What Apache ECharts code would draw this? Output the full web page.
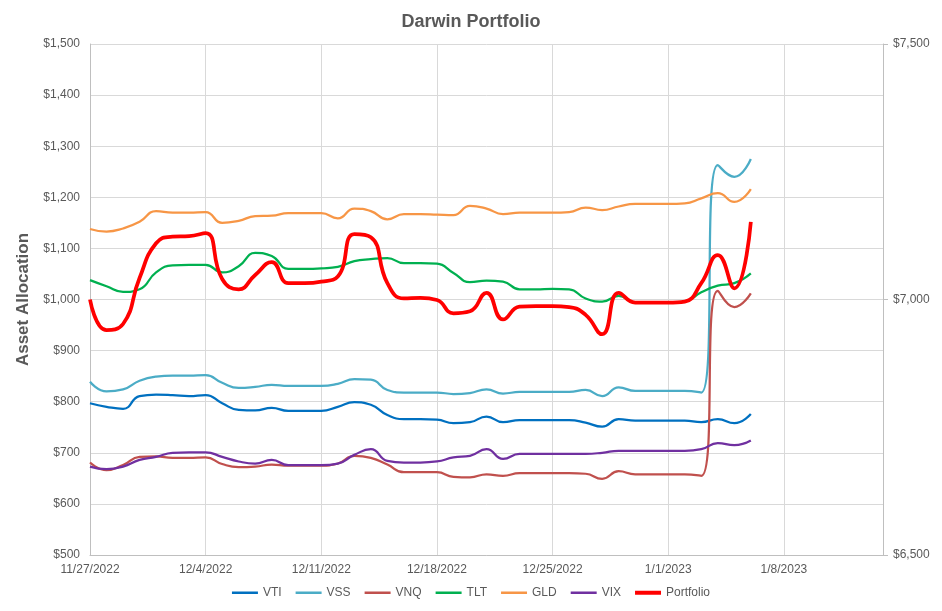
<!DOCTYPE html>
<html>
<head>
<meta charset="utf-8">
<script src="https://cdn.jsdelivr.net/npm/echarts@6/dist/echarts.min.js"></script>
<style>html,body{margin:0;padding:0;background:#fff}#c{width:942px;height:611px}</style>
</head>
<body>
<div id="c"></div>
<script>
const dates = ["11/27/2022","11/28/2022","11/29/2022","11/30/2022","12/1/2022","12/2/2022","12/3/2022",
"12/4/2022","12/5/2022","12/6/2022","12/7/2022","12/8/2022","12/9/2022","12/10/2022",
"12/11/2022","12/12/2022","12/13/2022","12/14/2022","12/15/2022","12/16/2022","12/17/2022",
"12/18/2022","12/19/2022","12/20/2022","12/21/2022","12/22/2022","12/23/2022","12/24/2022",
"12/25/2022","12/26/2022","12/27/2022","12/28/2022","12/29/2022","12/30/2022","12/31/2022",
"1/1/2023","1/2/2023","1/3/2023","1/4/2023","1/5/2023","1/6/2023","1/7/2023",
"1/8/2023","1/9/2023","1/10/2023","1/11/2023","1/12/2023","1/13/2023","1/14/2023"];

const VTI = [797,790,786,811,814,813,811,813,797,784,783,788,782,782,782,790,799,794,774,766,766,765,758,760,771,760,764,764,764,764,759,751,766,763,763,763,763,760,766,758,776];
const VSS = [839,820,824,841,849,851,851,852,837,827,829,833,831,831,831,835,844,843,823,818,818,818,815,817,824,816,819,819,819,819,823,811,828,821,821,821,821,818,1263,1240,1275];
const VNQ = [681,666,676,692,693,690,690,691,678,672,673,677,675,675,675,679,694,690,677,662,662,662,653,652,658,655,660,660,660,660,659,649,664,658,658,658,658,655,1017,985,1012];
const TLT = [1038,1026,1015,1020,1053,1067,1068,1068,1053,1065,1091,1085,1060,1060,1061,1064,1075,1079,1081,1071,1071,1070,1052,1034,1037,1035,1020,1020,1021,1020,1002,996,1007,994,994,994,996,1014,1027,1032,1051];
const GLD = [1138,1133,1139,1152,1173,1170,1170,1171,1150,1154,1163,1164,1169,1169,1169,1159,1178,1173,1157,1167,1167,1166,1165,1183,1178,1167,1170,1170,1170,1171,1180,1175,1182,1187,1187,1187,1188,1198,1208,1191,1216];
const VIX = [673,668,673,686,692,700,701,701,692,683,679,686,676,676,676,679,696,707,684,681,681,683,691,694,707,688,698,698,698,698,698,700,704,704,704,704,704,707,719,715,724];
const Portfolio = [7000,6940,6952,7042,7110,7123,7124,7130,7040,7020,7048,7073,7032,7032,7035,7045,7128,7122,7032,7002,7003,6999,6973,6977,7013,6961,6986,6987,6987,6985,6970,6932,7013,6994,6994,6994,6996,7032,7087,7022,7152];

const seriesNames = ["VTI","VSS","VNQ","TLT","GLD","VIX","Portfolio"];
const seriesData = [VTI,VSS,VNQ,TLT,GLD,VIX,Portfolio];
const colors = ["#0070C0","#4BACC6","#C0504D","#00B050","#F79646","#7030A0","#FF0000"];

const FONT = "'Liberation Sans', Arial, sans-serif";
const fmt = v => '$' + v.toLocaleString('en-US');
const thinIcon = 'path://M0,0 L26,0 L26,0.01 L0,0.01 Z M0,5 L26,5 L26,7.5 L0,7.5 Z M0,12.5 L26,12.5 L26,12.51 L0,12.51 Z';
const thickIcon = 'path://M0,0 L26,0 L26,0.01 L0,0.01 Z M0,4.25 L26,4.25 L26,8.25 L0,8.25 Z M0,12.5 L26,12.5 L26,12.51 L0,12.51 Z';

const chart = echarts.init(document.getElementById('c'), null, {renderer:'canvas'});
chart.setOption({
  animation: false,
  backgroundColor: '#ffffff',
  textStyle: {fontFamily: FONT},
  title: {
    text: 'Darwin Portfolio', left: 'center', top: 8,
    textStyle: {fontFamily: FONT, fontSize: 18, fontWeight: 'bold', color: '#595959'}
  },
  legend: {
    bottom: 7, left: 'center', itemWidth: 26, itemHeight: 12.5, itemGap: 14,
    textStyle: {fontFamily: FONT, fontSize: 12, color: '#595959'},
    data: seriesNames.map(n => ({name: n, icon: n === 'Portfolio' ? thickIcon : thinIcon}))
  },
  grid: {left: 90, right: 59, top: 44, bottom: 56, containLabel: false},
  xAxis: {
    type: 'category', data: dates, boundaryGap: false,
    axisLine: {lineStyle: {color: '#BFBFBF', width: 1}},
    axisTick: {show: false},
    axisLabel: {interval: 6, color: '#595959', fontSize: 12, margin: 9, fontFamily: FONT},
    splitLine: {show: true, interval: 6, lineStyle: {color: '#D9D9D9', width: 1}}
  },
  yAxis: [{
    type: 'value', min: 500, max: 1500, interval: 100,
    name: 'Asset Allocation', nameLocation: 'middle', nameGap: 58,
    nameTextStyle: {fontFamily: FONT, fontSize: 17, fontWeight: 'bold', color: '#595959'},
    axisLine: {show: true, lineStyle: {color: '#BFBFBF'}},
    axisTick: {show: false},
    axisLabel: {formatter: fmt, color: '#595959', fontSize: 12, margin: 10, fontFamily: FONT},
    splitLine: {show: true, lineStyle: {color: '#D9D9D9', width: 1}}
  }, {
    type: 'value', min: 6500, max: 7500, interval: 500, position: 'right',
    axisLine: {show: true, lineStyle: {color: '#BFBFBF'}},
    axisTick: {show: true, length: 5, lineStyle: {color: '#BFBFBF'}},
    axisLabel: {formatter: fmt, color: '#595959', fontSize: 12, margin: 10, fontFamily: FONT},
    splitLine: {show: false}
  }],
  series: seriesNames.map((n, i) => ({
    name: n, type: 'line', data: seriesData[i],
    yAxisIndex: n === 'Portfolio' ? 1 : 0,
    smooth: 0.5, symbol: 'none', showSymbol: false,
    color: colors[i],
    itemStyle: {color: colors[i]},
    lineStyle: {color: colors[i], width: n === 'Portfolio' ? 3.75 : 2.25},
    z: n === 'Portfolio' ? 5 : 2
  }))
});
</script>
</body>
</html>
